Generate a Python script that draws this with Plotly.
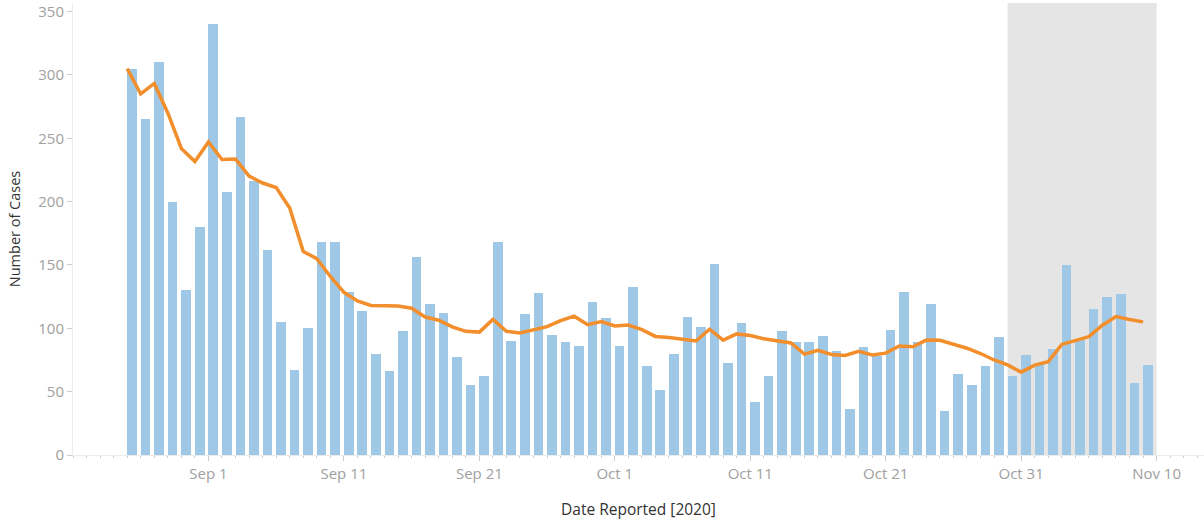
import plotly.graph_objects as go
import pandas as pd

dates = pd.date_range("2020-08-26", "2020-11-09", freq="D")

cases = [
    305, 265, 310, 200, 130, 180,                      # Aug 26-31
    340, 208, 267, 216, 162, 105, 67, 100, 168, 168,   # Sep 1-10
    129, 114, 80, 66, 98, 156, 119, 112, 77, 55,       # Sep 11-20
    62, 168, 90, 111, 128, 95, 89, 86, 121, 108,       # Sep 21-30
    86, 133, 70, 51, 80, 109, 101, 151, 73, 104,       # Oct 1-10
    42, 62, 98, 89, 89, 94, 82, 36, 85, 78,            # Oct 11-20
    99, 129, 89, 119, 35, 64, 55, 70, 93, 62, 79,      # Oct 21-31
    73, 84, 150, 91, 115, 125, 127, 57, 71,            # Nov 1-9
]

avg7 = [
    305.0, 285.0, 293.3, 270.0, 242.0, 231.7,
    247.1, 233.3, 233.6, 220.1, 214.7, 211.1, 195.0, 160.7, 155.0, 140.9,
    128.4, 121.6, 118.0, 117.9, 117.6, 115.9, 108.9, 106.4, 101.1, 97.6,
    97.0, 107.0, 97.6, 96.4, 98.7, 101.3, 106.1, 109.6, 102.9, 105.4,
    101.9, 102.6, 99.0, 93.6, 92.7, 91.0, 90.0, 99.3, 90.7, 95.6,
    94.3, 91.7, 90.1, 88.4, 79.6, 82.6, 79.4, 78.6, 81.9, 79.0,
    80.4, 86.1, 85.4, 90.7, 90.6, 87.6, 84.3, 80.1, 75.0, 71.1, 65.4,
    70.9, 73.7, 87.3, 90.3, 93.4, 102.4, 109.3, 107.0, 105.1,
]

tick_vals = ["2020-09-01", "2020-09-11", "2020-09-21", "2020-10-01",
             "2020-10-11", "2020-10-21", "2020-10-31", "2020-11-10"]
tick_text = ["Sep 1", "Sep 11", "Sep 21", "Oct 1", "Oct 11", "Oct 21", "Oct 31", "Nov 10"]
y_ticks = [0, 50, 100, 150, 200, 250, 300, 350]

shade_start = "2020-10-30"
shade_end = "2020-11-10"

DAY = 86400000
FONT = "Open Sans, Lato, sans-serif"

fig = go.Figure()
fig.add_trace(go.Bar(
    x=dates, y=cases,
    width=0.71 * DAY, offset=0,
    marker=dict(color="#9fc8e6", line=dict(width=0)),
    name="Cases",
))
fig.add_trace(go.Scatter(
    x=dates, y=avg7, mode="lines",
    line=dict(color="#f28e2b", width=3.5),
    name="7-day average",
))

fig.add_shape(type="rect", xref="x", yref="paper",
              x0=shade_start, x1=shade_end, y0=0, y1=1,
              fillcolor="#e5e5e5", line=dict(width=0), layer="below")

fig.update_layout(
    width=1204, height=523,
    margin=dict(l=73, r=0, t=3, b=68, autoexpand=False),
    plot_bgcolor="white", paper_bgcolor="white",
    showlegend=False,
    font=dict(family=FONT, size=14, color="#999999"),
    bargap=0,
)
fig.update_xaxes(
    type="date", automargin=False,
    range=["2020-08-22", "2020-11-13 12:00"],
    tickvals=tick_vals, ticktext=tick_text,
    ticks="outside", ticklen=5, tickcolor="#cccccc",
    minor=dict(dtick=DAY, tick0="2020-09-01", ticks="outside", ticklen=2, tickcolor="#cccccc"),
    showgrid=False, zeroline=False,
    showline=True, linecolor="#ececec", linewidth=1,
    tickfont=dict(family=FONT, size=15, color="#a0a0a0"),
    title=dict(text="Date Reported [2020]", font=dict(family=FONT, size=15.5, color="#333333"), standoff=22),
)
fig.update_yaxes(
    range=[0, 356.8], automargin=False,
    tickvals=y_ticks,
    ticks="outside", ticklen=5, tickcolor="#cccccc",
    showgrid=False, zeroline=False,
    showline=True, linecolor="#ececec", linewidth=1,
    tickfont=dict(family=FONT, size=15, color="#a0a0a0"),
    title=dict(text="Number of Cases", font=dict(family=FONT, size=14.5, color="#333333"), standoff=14),
)

fig.write_html("out.html", config={"displayModeBar": False},
               post_script="document.body.style.margin='0';")
